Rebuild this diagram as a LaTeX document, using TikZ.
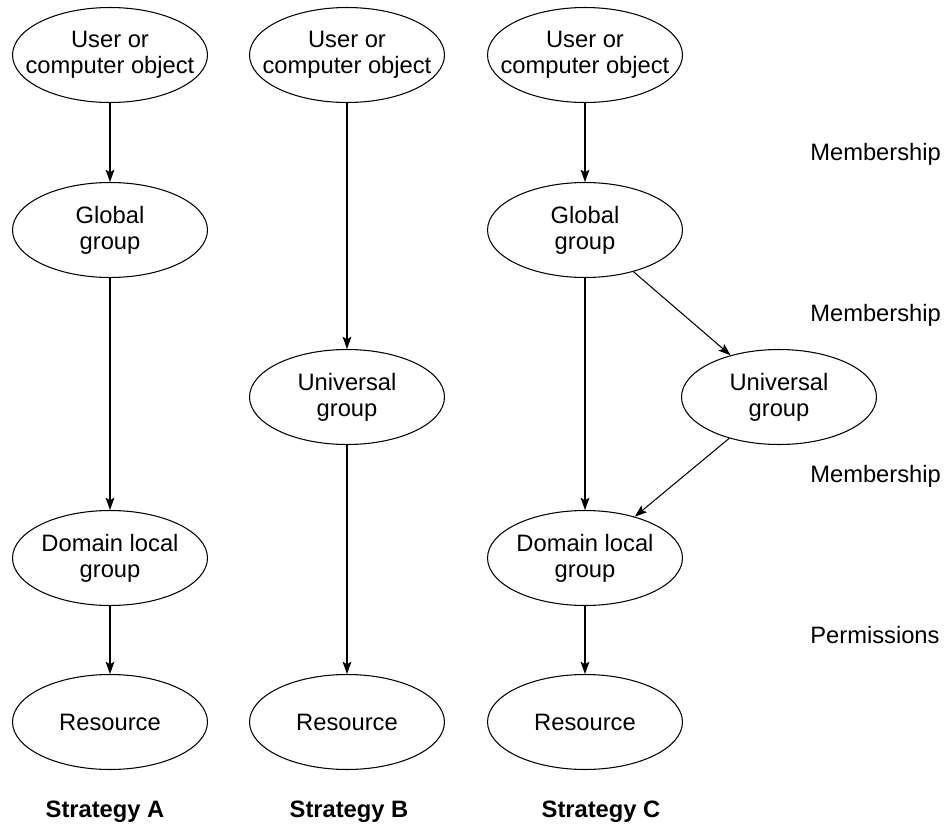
\documentclass[tikz,border=0pt]{standalone}
\usepackage{fontspec}
\setmainfont{Liberation Sans}
\usetikzlibrary{shapes.geometric,arrows.meta}

\begin{document}
\begin{tikzpicture}[
			x=0.02cm, y=-0.02cm,
			>={Stealth[length=7pt,width=5pt,inset=1.5pt]},
			every node/.style = {font=\fontsize{13.5}{14.8}\selectfont},
			group/.style      = {ellipse, draw, line width=0.6pt, minimum width=3.9cm,
			                     minimum height=1.9cm, inner xsep=-0.6cm, inner ysep=0pt,
			                     align=center},
			link/.style       = {->, line width=0.6pt},
			caption/.style    = {font=\fontsize{13.5}{14.8}\selectfont\bfseries},
			relation/.style   = {anchor=west, inner xsep=0pt}
			]
			\useasboundingbox (0,0) rectangle (948,825);
			
			%--- strategy A ---
			\node[group] (userA)   at (110,55)  {User or\\computer object};
			\node[group] (globalA) at (110,230) {Global\\group};
			\node[group] (domA)    at (110,558) {Domain local\\group};
			\node[group] (resA)    at (110,722) {Resource};
			\node[caption] (stratA) at (105,812) {Strategy A};
			
			%--- strategy B ---
			\node[group] (userB)   at (347,55)  {User or\\computer object};
			\node[group] (univB)   at (347,397) {Universal\\group};
			\node[group] (resB)    at (347,722) {Resource};
			\node[caption] (stratB) at (349,812) {Strategy B};
			
			%--- strategy C ---
			\node[group] (userC)   at (585,55)  {User or\\computer object};
			\node[group] (globalC) at (585,230) {Global\\group};
			\node[group] (univC)   at (779,397) {Universal\\group};
			\node[group] (domC)    at (585,558) {Domain local\\group};
			\node[group] (resC)    at (585,722) {Resource};
			\node[caption] (stratC) at (601,812) {Strategy C};
			
			%--- relation labels ---
			\node[relation] (mem1) at (810,154) {Membership};
			\node[relation] (mem2) at (810,315) {Membership};
			\node[relation] (mem3) at (810,476) {Membership};
			\node[relation] (perm) at (810,635) {Permissions};
			
			%--- arrows ---
			\draw[link] (userA) -- (globalA);
			\draw[link] (globalA) -- (domA);
			\draw[link] (domA) -- (resA);
			
			\draw[link] (userB) -- (univB);
			\draw[link] (univB) -- (resB);
			
			\draw[link] (userC) -- (globalC);
			\draw[link] (globalC) -- (domC);
			\draw[link] (globalC) -- (univC);
			\draw[link] (univC) -- (domC);
			\draw[link] (domC) -- (resC);
		\end{tikzpicture}
\end{document}
